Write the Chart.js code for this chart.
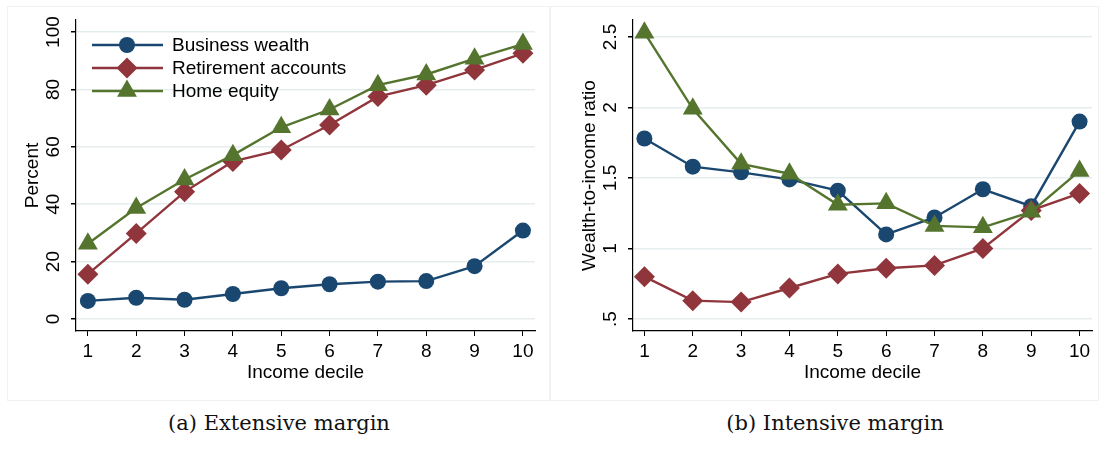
<!DOCTYPE html>
<html>
<head>
<meta charset="utf-8">
<script src="https://cdn.jsdelivr.net/npm/chart.js@4.4.1/dist/chart.umd.min.js"></script>
<style>
  body { margin: 0; background: #fff; width: 1105px; height: 450px; position: relative; overflow: hidden; }
  canvas { position: absolute; top: 0; }
  .frame { position: absolute; border: 1px solid #f2f2f2; box-sizing: border-box; }
  .caption { position: absolute; top: 411px; font: 21px "DejaVu Serif", serif; color: #111; transform: translateX(-50%); white-space: nowrap; }
</style>
</head>
<body>
<div class="frame" style="left:7px;top:6px;width:543px;height:395px"></div>
<div class="frame" style="left:550px;top:6px;width:549px;height:395px"></div>
<canvas id="extensive" width="550" height="400" style="left:0"></canvas>
<canvas id="intensive" width="555" height="400" style="left:550px"></canvas>
<div class="caption" style="left:279px">(a) Extensive margin</div>
<div class="caption" style="left:835px">(b) Intensive margin</div>
<script>
const deciles = [1, 2, 3, 4, 5, 6, 7, 8, 9, 10];

// share of households holding each asset (%)
const extBusiness   = [6.3, 7.4, 6.7, 8.7, 10.7, 12.1, 13.0, 13.2, 18.4, 30.8];
const extRetirement = [15.6, 29.8, 44.3, 54.9, 58.9, 67.6, 77.5, 81.5, 86.8, 92.6];
const extHome       = [26.2, 38.7, 48.6, 57.1, 66.8, 73.0, 81.5, 85.2, 90.7, 95.8];

// wealth-to-income ratio among holders
const intBusiness   = [1.78, 1.58, 1.54, 1.49, 1.41, 1.10, 1.22, 1.42, 1.30, 1.90];
const intRetirement = [0.80, 0.63, 0.62, 0.72, 0.82, 0.86, 0.88, 1.00, 1.27, 1.39];
const intHome       = [2.53, 1.99, 1.60, 1.53, 1.31, 1.32, 1.16, 1.15, 1.26, 1.55];

const extTicks = [0, 20, 40, 60, 80, 100];
const intTicks = [0.5, 1, 1.5, 2, 2.5];
const intTickLabels = ['.5', '1', '1.5', '2', '2.5'];

const seriesNames = ['Business wealth', 'Retirement accounts', 'Home equity'];

const NAVY = '#1a476f';
const MAROON = '#90353b';
const GREEN = '#55752f';
const FONT = '"Liberation Sans", Arial, sans-serif';
const FONT_SIZE = 19;

const markers = [
  { color: NAVY,   style: 'circle',   radius: 8 },
  { color: MAROON, style: 'rectRot',  radius: 10.5 },
  { color: GREEN,  style: 'triangle', radius: 11.5 }
];

function series(values, i) {
  const m = markers[i];
  return {
    label: seriesNames[i],
    data: deciles.map((d, k) => ({ x: d, y: values[k] })),
    borderColor: m.color,
    backgroundColor: m.color,
    borderWidth: 2.4,
    pointStyle: m.style,
    pointRadius: m.radius,
    pointBorderWidth: 0,
    pointBackgroundColor: m.color,
    order: 3 - i
  };
}

// y tick labels are drawn rotated, Stata style
const rotatedTicks = {
  id: 'rotatedTicks',
  afterDraw(chart, args, opts) {
    const { ctx } = chart;
    const y = chart.scales.y;
    ctx.save();
    ctx.fillStyle = '#000';
    ctx.font = FONT_SIZE + 'px ' + FONT;
    ctx.textAlign = 'center';
    ctx.textBaseline = 'middle';
    opts.values.forEach((v, i) => {
      ctx.save();
      ctx.translate(opts.x, y.getPixelForValue(v));
      ctx.rotate(-Math.PI / 2);
      ctx.fillText(opts.labels[i], 0, 0);
      ctx.restore();
    });
    ctx.restore();
  }
};

// legend placed inside the plot region
const innerLegend = {
  id: 'innerLegend',
  afterDatasetsDraw(chart, args, opts) {
    if (!opts.show) return;
    const { ctx } = chart;
    ctx.save();
    chart.data.datasets.forEach((ds, i) => {
      const m = markers[i];
      const y = 45 + i * 23;
      ctx.strokeStyle = m.color;
      ctx.lineWidth = 2.4;
      ctx.beginPath();
      ctx.moveTo(92, y);
      ctx.lineTo(163, y);
      ctx.stroke();
      ctx.fillStyle = m.color;
      Chart.helpers.drawPoint(ctx, { pointStyle: m.style, radius: m.radius, borderWidth: 0, rotation: 0 }, 127, y);
      ctx.fillStyle = '#000';
      ctx.font = FONT_SIZE + 'px ' + FONT;
      ctx.textAlign = 'left';
      ctx.textBaseline = 'middle';
      ctx.fillText(ds.label, 172, y + 1);
    });
    ctx.restore();
  }
};

function makeChart(id, cfg) {
  return new Chart(document.getElementById(id), {
    type: 'line',
    data: { datasets: cfg.data.map(series) },
    plugins: [rotatedTicks, innerLegend],
    options: {
      responsive: false,
      animation: false,
      devicePixelRatio: 1,
      layout: { padding: { top: 20, right: cfg.padRight, left: 0, bottom: 0 } },
      scales: {
        x: {
          type: 'linear',
          min: cfg.xMin,
          max: cfg.xMax,
          afterBuildTicks: s => { s.ticks = deciles.map(v => ({ value: v })); },
          afterFit: s => { s.height = 69; },
          grid: { drawOnChartArea: false, drawTicks: true, tickLength: 5, color: '#000', lineWidth: 1 },
          border: { color: '#000', width: 1.2 },
          ticks: { color: '#000', font: { family: FONT, size: FONT_SIZE }, padding: 4, maxRotation: 0 },
          title: { display: true, text: 'Income decile', color: '#000', font: { family: FONT, size: FONT_SIZE }, padding: { top: 0, bottom: 15.5 } }
        },
        y: {
          type: 'linear',
          min: cfg.yMin,
          max: cfg.yMax,
          afterBuildTicks: s => { s.ticks = cfg.yTicks.map(v => ({ value: v })); },
          afterFit: s => { s.width = cfg.axisX; },
          grid: { color: '#e5edef', lineWidth: 1.5, tickColor: '#000', tickLength: 5, drawTicks: true },
          border: { color: '#000', width: 1.2 },
          ticks: { display: false },
          title: { display: true, text: cfg.yTitle, color: '#000', font: { family: FONT, size: FONT_SIZE }, padding: { top: cfg.titlePad, bottom: 0 } }
        }
      },
      plugins: {
        legend: { display: false },
        tooltip: { enabled: false },
        rotatedTicks: { values: cfg.yTicks, labels: cfg.yLabels, x: cfg.tickX },
        innerLegend: { show: cfg.legend }
      }
    }
  });
}

makeChart('extensive', {
  data: [extBusiness, extRetirement, extHome],
  xMin: 0.754, xMax: 10.25,
  yMin: -4.2, yMax: 104.2,
  yTicks: extTicks,
  yLabels: extTicks.map(String),
  yTitle: 'Percent',
  axisX: 76, padRight: 15, tickX: 54, titlePad: 21.5,
  legend: true
});

makeChart('intensive', {
  data: [intBusiness, intRetirement, intHome],
  xMin: 0.764, xMax: 10.257,
  yMin: 0.415, yMax: 2.62,
  yTicks: intTicks,
  yLabels: intTickLabels,
  yTitle: 'Wealth-to-income ratio',
  axisX: 83, padRight: 13, tickX: 61, titlePad: 28.5,
  legend: false
});
</script>
</body>
</html>
